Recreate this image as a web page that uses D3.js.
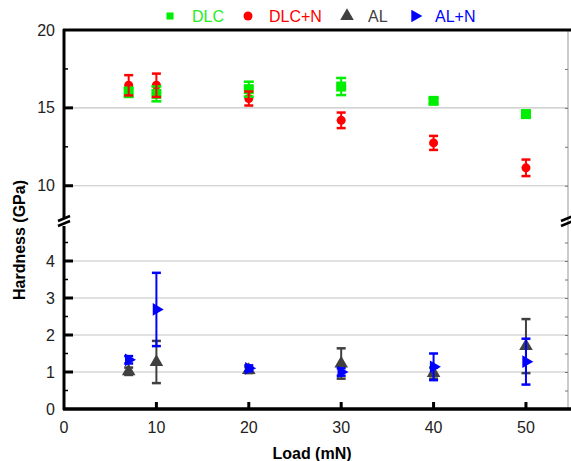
<!DOCTYPE html>
<html>
<head>
<meta charset="utf-8">
<script src="https://cdn.jsdelivr.net/npm/d3@7"></script>
<style>
  body { margin: 0; background: #fff; }
  svg { font-family: "Liberation Sans", Arial, sans-serif; }
</style>
</head>
<body>
<svg id="chart" width="571" height="461"></svg>
<script>
// data
var loads = [7, 10, 20, 30, 40, 50];
var dlc = [16.0, 15.9, 16.2, 16.37, 15.45, 14.6];
var dlcErr = [0.3, 0.48, 0.48, 0.55, 0.18, 0.2];
var dlcN = [16.45, 16.45, 15.6, 14.2, 12.75, 11.15];
var dlcNErr = [0.65, 0.75, 0.45, 0.5, 0.45, 0.53];
var al = [1.02, 1.27, 1.05, 1.23, 0.97, 1.7];
var alErr = [0.1, 0.57, 0.08, 0.41, 0.15, 0.73];
var alN = [1.33, 2.69, 1.1, 1.0, 1.14, 1.28];
var alNErr = [0.1, 0.99, 0.08, 0.1, 0.36, 0.62];
var upperTicks = [10, 15, 20];
var lowerTicks = [0, 1, 2, 3, 4];
var xTicks = [0, 10, 20, 30, 40, 50];

var svg = d3.select("#chart");
var padLeft = 64, padRight = 568, padTop = 30, padBottom = 409;

var x = d3.scaleLinear().domain([0, 54.55]).range([padLeft, padRight]);
var yUp = d3.scaleLinear().domain([7.8, 20]).range([220, padTop]);
var yLow = d3.scaleLinear().domain([0, 5]).range([padBottom, 224]);

//gridlines
svg.selectAll(".gUp").data([10, 15]).enter().append("line")
    .attr("x1", padLeft).attr("x2", padRight)
    .attr("y1", function(d) { return yUp(d); }).attr("y2", function(d) { return yUp(d); })
    .attr("stroke", "#c4c4c4").attr("stroke-width", 1.2);
svg.selectAll(".gLow").data([1, 2, 3, 4]).enter().append("line")
    .attr("x1", padLeft).attr("x2", padRight)
    .attr("y1", function(d) { return yLow(d); }).attr("y2", function(d) { return yLow(d); })
    .attr("stroke", "#c4c4c4").attr("stroke-width", 1.2);

//right frame (thin) with inward ticks
svg.append("line").attr("x1", padRight).attr("x2", padRight).attr("y1", padTop).attr("y2", padBottom)
    .attr("stroke", "#999").attr("stroke-width", 1);
svg.append("g").attr("transform", "translate(" + padRight + ",0)")
    .call(d3.axisRight(yUp).tickValues([10, 12.5, 15, 17.5]).tickSize(-3).tickFormat(""))
    .call(function(g) { g.select(".domain").remove(); g.selectAll("line").attr("stroke", "#777"); });
svg.append("g").attr("transform", "translate(" + padRight + ",0)")
    .call(d3.axisRight(yLow).tickValues(d3.range(0.5, 5, 0.5)).tickSize(-3).tickFormat(""))
    .call(function(g) { g.select(".domain").remove(); g.selectAll("line").attr("stroke", "#777"); });

//top frame
svg.append("line").attr("x1", padLeft - 1).attr("x2", 571).attr("y1", padTop).attr("y2", padTop)
    .attr("stroke", "#000").attr("stroke-width", 3);

//left axis labels
var upAxis = svg.append("g").attr("transform", "translate(" + padLeft + ",0)")
    .call(d3.axisLeft(yUp).tickValues(upperTicks).tickSize(0).tickPadding(9).tickFormat(d3.format("d")));
upAxis.select(".domain").remove();
var lowAxis = svg.append("g").attr("transform", "translate(" + padLeft + ",0)")
    .call(d3.axisLeft(yLow).tickValues(lowerTicks).tickSize(0).tickPadding(9).tickFormat(d3.format("d")));
lowAxis.select(".domain").remove();
svg.selectAll(".tick text").attr("font-size", 16).attr("fill", "#222")
    .attr("font-family", "Liberation Sans, Arial, sans-serif");

// major / minor ticks pointing in
function yTicks(scale, majors, minors) {
    svg.selectAll(null).data(majors).enter().append("line")
        .attr("x1", padLeft).attr("x2", padLeft + 9)
        .attr("y1", function(d) { return scale(d); }).attr("y2", function(d) { return scale(d); })
        .attr("stroke", "#000").attr("stroke-width", 3);
    svg.selectAll(null).data(minors).enter().append("line")
        .attr("x1", padLeft).attr("x2", padLeft + 4)
        .attr("y1", function(d) { return scale(d); }).attr("y2", function(d) { return scale(d); })
        .attr("stroke", "#000").attr("stroke-width", 1.5);
}
yTicks(yUp, [10, 15], [12.5, 17.5]);
yTicks(yLow, [1, 2, 3, 4], d3.range(0.5, 5, 1));

svg.append("line").attr("x1", padLeft).attr("x2", padLeft).attr("y1", padTop - 1).attr("y2", 219)
    .attr("stroke", "#000").attr("stroke-width", 3);
svg.append("line").attr("x1", padLeft).attr("x2", padLeft).attr("y1", 226).attr("y2", padBottom + 1)
    .attr("stroke", "#000").attr("stroke-width", 3);

//break marks
[[padLeft, 222], [padRight - 1, 222]].forEach(function(p) {
    svg.append("line").attr("x1", p[0] - 6).attr("y1", p[1] - 1).attr("x2", p[0] + 6).attr("y2", p[1] - 6)
        .attr("stroke", "#000").attr("stroke-width", 2.5);
    svg.append("line").attr("x1", p[0] - 6).attr("y1", p[1] + 4).attr("x2", p[0] + 6).attr("y2", p[1] - 1)
        .attr("stroke", "#000").attr("stroke-width", 2.5);
});

//x axis
svg.append("line").attr("x1", padLeft - 1).attr("x2", 571).attr("y1", padBottom).attr("y2", padBottom)
    .attr("stroke", "#000").attr("stroke-width", 3.5);
svg.selectAll(".xt").data(xTicks.slice(1)).enter().append("line")
    .attr("x1", function(d) { return x(d); }).attr("x2", function(d) { return x(d); })
    .attr("y1", padBottom).attr("y2", padBottom - 7)
    .attr("stroke", "#000").attr("stroke-width", 3);
svg.selectAll(".xl").data(xTicks).enter().append("text")
    .attr("x", function(d) { return x(d); }).attr("y", 433)
    .attr("text-anchor", "middle").attr("font-size", 16).attr("fill", "#222")
    .text(function(d) { return d; });

svg.append("text").attr("x", 312).attr("y", 459).attr("text-anchor", "middle")
    .attr("font-size", 16).attr("font-weight", "bold").text("Load (mN)");
svg.append("text").attr("transform", "translate(25,240) rotate(-90)").attr("text-anchor", "middle")
    .attr("font-size", 16).attr("font-weight", "bold").text("Hardness (GPa)");

//series
var series = [
    { name: "DLC", vals: dlc, err: dlcErr, y: yUp, color: "#00ee00", sym: d3.symbolSquare, size: 100, lsize: 50, rot: 0, cap: 5 },
    { name: "DLC+N", vals: dlcN, err: dlcNErr, y: yUp, color: "#ff0000", sym: d3.symbolCircle, size: 64, lsize: 64, rot: 0, cap: 4.5 },
    { name: "AL", vals: al, err: alErr, y: yLow, color: "#404040", sym: d3.symbolTriangle, size: 80, lsize: 80, rot: 0, cap: 4.5 },
    { name: "AL+N", vals: alN, err: alNErr, y: yLow, color: "#0000ff", sym: d3.symbolTriangle, size: 70, lsize: 70, rot: 90, cap: 4.5 }
];

function drawMarkers(s) {
    svg.append("g").selectAll("path").data(loads).enter().append("path")
        .attr("d", d3.symbol().type(s.sym).size(s.size)())
        .attr("transform", function(l, i) { return "translate(" + x(l) + "," + s.y(s.vals[i]) + ") rotate(" + s.rot + ")"; })
        .attr("fill", s.color);
}
function drawErrors(s) {
    var g = svg.append("g");
    loads.forEach(function(l, i) {
        var cx = x(l);
        var y1 = s.y(s.vals[i] + s.err[i]), y2 = s.y(s.vals[i] - s.err[i]);
        g.append("line").attr("x1", cx).attr("x2", cx).attr("y1", y1).attr("y2", y2)
            .attr("stroke", s.color).attr("stroke-width", 2);
        [y1, y2].forEach(function(yy) {
            g.append("line").attr("x1", cx - s.cap).attr("x2", cx + s.cap).attr("y1", yy).attr("y2", yy)
                .attr("stroke", s.color).attr("stroke-width", 2.5);
        });
    });
}
// red circles sit under the green squares, red bars over them
drawMarkers(series[1]);
drawErrors(series[0]);
drawMarkers(series[0]);
drawErrors(series[1]);
drawErrors(series[2]);
drawMarkers(series[2]);
drawErrors(series[3]);
drawMarkers(series[3]);

//legend
var legendX = [170, 248, 347, 415];
var legendTextX = [192, 269, 368, 435];
series.forEach(function(s, i) {
    svg.append("path").attr("d", d3.symbol().type(s.sym).size(s.lsize)())
        .attr("transform", "translate(" + legendX[i] + ",16) rotate(" + s.rot + ")")
        .attr("fill", s.color);
    svg.append("text").attr("x", legendTextX[i]).attr("y", 22).attr("font-size", 16)
        .attr("fill", s.color === "#00ee00" ? "#22ee22" : s.color).text(s.name);
});
</script>
</body>
</html>
